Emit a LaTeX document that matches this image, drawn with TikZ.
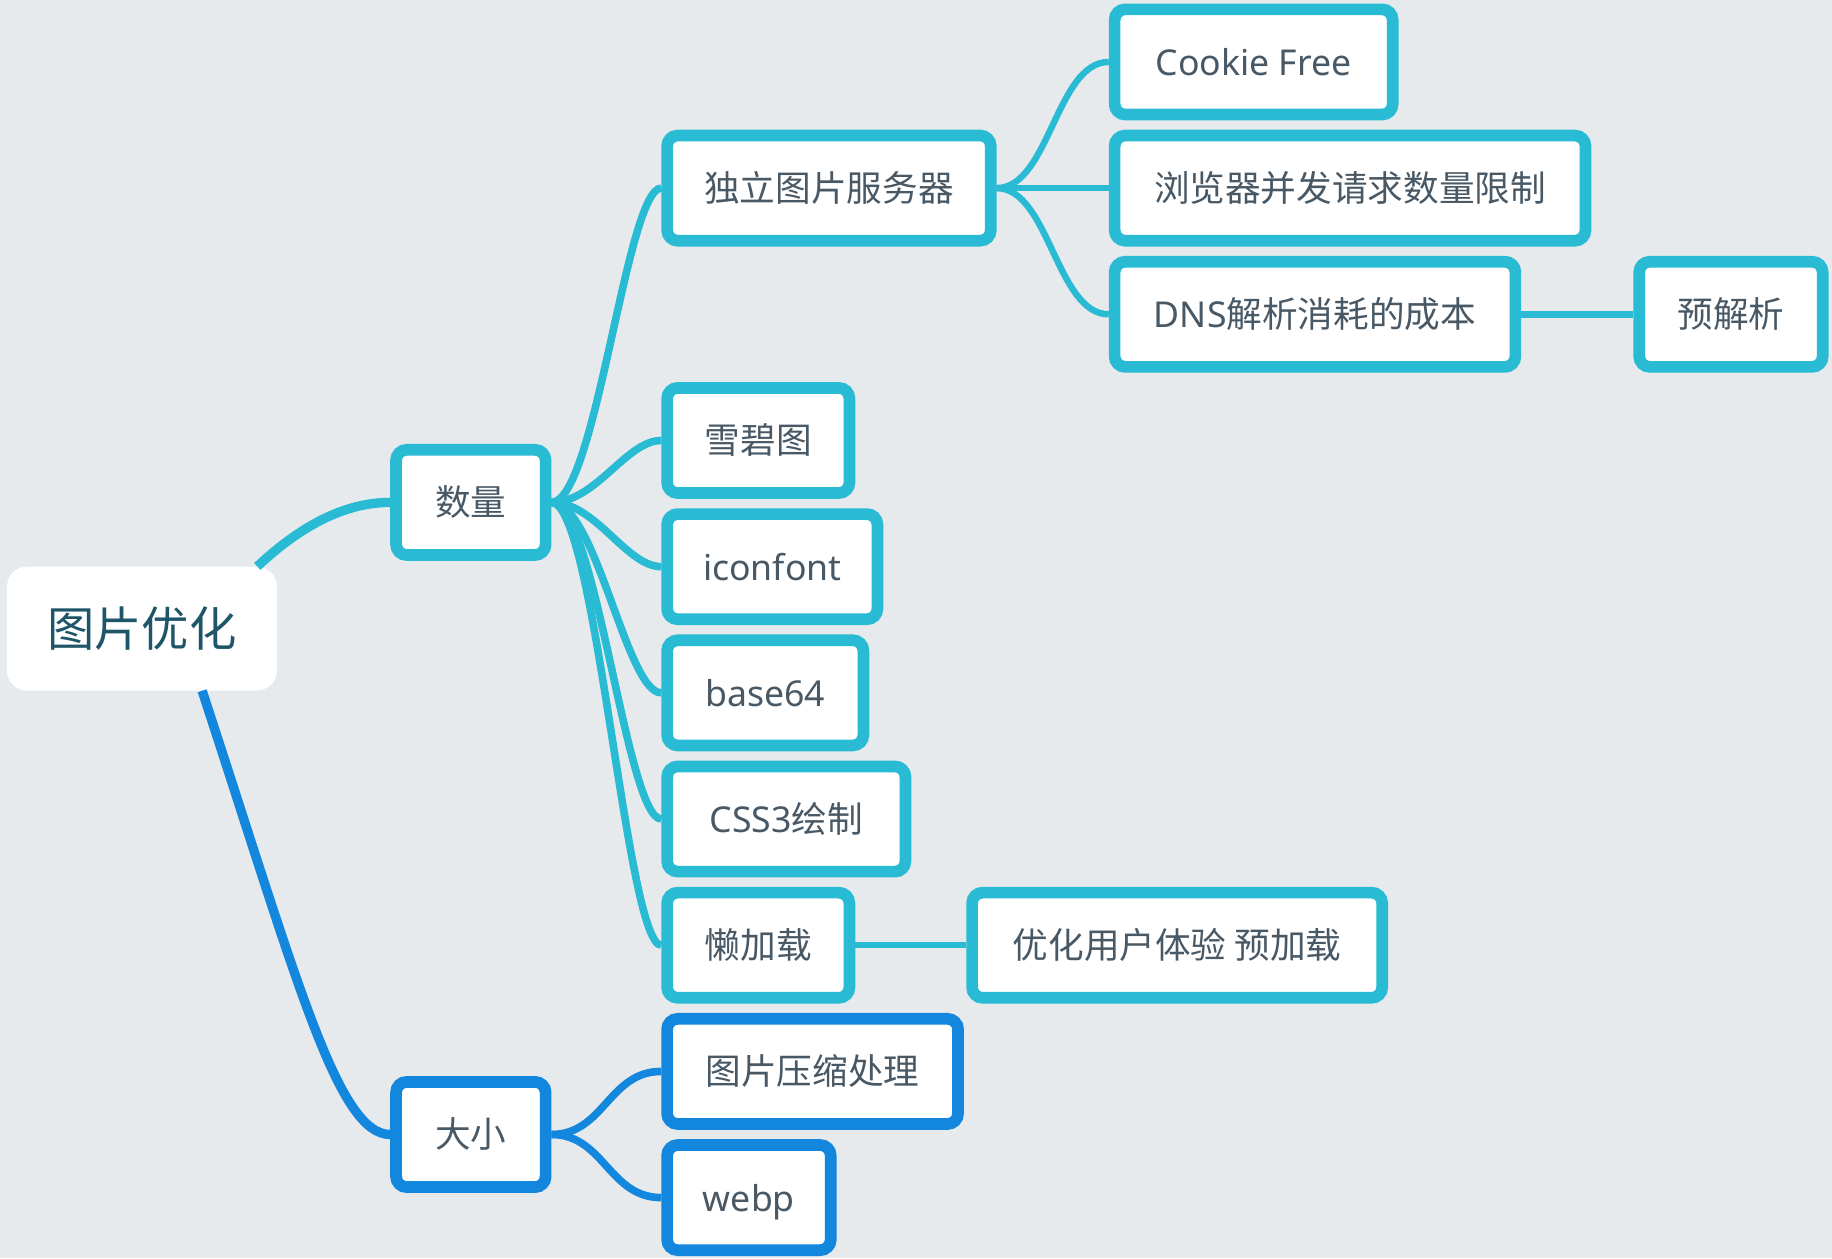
\documentclass[tikz,border=0pt]{standalone}
\usepackage{fontspec}
\setmainfont{Noto Sans}
\newfontfamily\cjk{Noto Sans CJK SC}
\usetikzlibrary{positioning}
\definecolor{mybg}{RGB}{230,234,237}
\definecolor{myteal}{RGB}{41,187,211}
\definecolor{myblue}{RGB}{19,134,221}
\definecolor{mytext}{RGB}{72,88,101}
\definecolor{myroot}{RGB}{30,85,104}
\tikzstyle{topic}=[rectangle, anchor=west, draw=myteal, line width=10pt, fill=white, rounded corners=9pt, minimum height=90pt, inner sep=0pt, text=mytext, font=\cjk\fontsize{30.5}{36}\selectfont, text height=23pt, text depth=0pt]
\tikzstyle{sizetopic}=[topic, draw=myblue]
\tikzstyle{root}=[rectangle, fill=white, rounded corners=17pt, minimum width=231pt, minimum height=106pt, inner sep=0pt, text=myroot, font=\cjk\fontsize{40.5}{48}\selectfont, text height=31pt, text depth=0pt]
\tikzstyle{connect}=[line width=6.5pt, myteal]
\tikzstyle{connect thin}=[line width=5.5pt, myteal]

\begin{document}
\begin{tikzpicture}[x=1pt, y=-1pt]

\useasboundingbox (0,0) rectangle (1568,1077);
\fill[mybg] (0,0) rectangle (1568,1077);

\node[root] (root) at (121.5,538) {图片优化};

\node[topic, minimum width=128pt] (count) at (334,430) {数量};
\node[sizetopic, minimum width=128pt] (size) at (334,971) {大小};

% quantity branch
\node[topic, minimum width=277pt] (server) at (566,161) {独立图片服务器};
\node[topic, minimum width=156pt] (sprite) at (566,377) {雪碧图};
\node[topic, minimum width=180pt] (iconfont) at (566,485) {\rmfamily iconfont};
\node[topic, minimum width=168pt] (base) at (566,593) {\rmfamily base64};
\node[topic, minimum width=204pt] (css) at (566,701) {{\rmfamily CSS3}绘制};
\node[topic, minimum width=156pt] (lazy) at (566,809) {懒加载};

\node[topic, minimum width=238pt] (cookie) at (949,53) {\rmfamily Cookie Free};
\node[topic, minimum width=403pt] (browser) at (949,161) {浏览器并发请求数量限制};
\node[topic, minimum width=343pt] (dns) at (949,269) {{\rmfamily DNS}解析消耗的成本};
\node[topic, minimum width=157pt] (prefetch) at (1398,269) {预解析};
\node[topic, minimum width=351pt] (preload) at (827,809) {优化用户体验 预加载};

% size branch
\node[sizetopic, minimum width=249pt] (compress) at (566,917) {图片压缩处理};
\node[sizetopic, minimum width=140pt] (webp) at (566,1025) {\rmfamily webp};

\draw[myteal, line width=8pt] ([xshift=-17pt]root.north east) .. controls +(30,-28) and +(-45,0) .. (count.west);
\draw[myblue, line width=8pt] ([xshift=51.5pt]root.south) .. controls +(82,250) and +(-45,0) .. (size.west);

\begin{scope}[connect]
    \foreach \n in {server,sprite,iconfont,base,css,lazy}{
        \draw (count.east) .. controls +(38,0) and +(-30,0) .. (\n.west);
    }
\end{scope}

\begin{scope}[connect thin]
    \foreach \n in {cookie,browser,dns}{
        \draw (server.east) .. controls +(45,0) and +(-45,0) .. (\n.west);
    }
    \draw (dns.east) -- (prefetch.west);
    \draw (lazy.east) -- (preload.west);
\end{scope}

\begin{scope}[connect, myblue]
    \draw (size.east) .. controls +(45,0) and +(-45,0) .. (compress.west);
    \draw (size.east) .. controls +(45,0) and +(-45,0) .. (webp.west);
\end{scope}

\end{tikzpicture}
\end{document}
